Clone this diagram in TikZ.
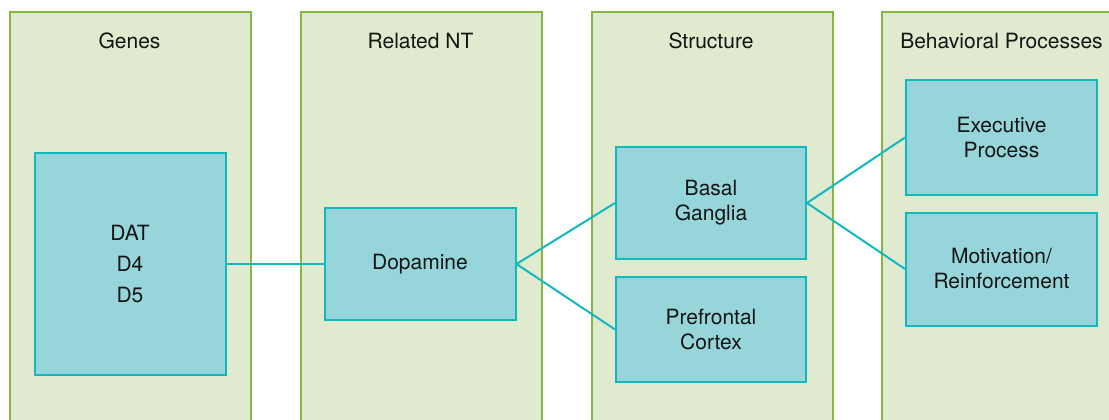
\documentclass[tikz,border=0pt]{standalone}
\usepackage{fontspec}
\setmainfont{TeX Gyre Heros}
\definecolor{panelfill}{RGB}{224,234,207}
\definecolor{panelline}{RGB}{132,184,66}
\definecolor{boxfill}{RGB}{150,214,219}
\definecolor{boxline}{RGB}{18,184,192}
\definecolor{txt}{RGB}{20,20,20}
\begin{document}
\begin{tikzpicture}[x=1pt,y=-1pt,
  panel/.style={draw=panelline, fill=panelfill, line width=2pt, minimum width=241pt, minimum height=440pt, anchor=north west, inner sep=0pt},
  box/.style={draw=boxline, fill=boxfill, line width=2pt, align=center, text=txt, font=\fontsize{21}{25}\selectfont, inner sep=0pt},
  title/.style={text=txt, font=\fontsize{21}{25}\selectfont, inner sep=0pt},
  link/.style={draw=boxline, line width=2pt}]
\useasboundingbox (0,0) rectangle (1109,420);
\clip (0,0) rectangle (1109,420);
\fill[white] (0,0) rectangle (1109,420);
% panels
\node[panel] (p1) at (9,11.5) {};
\node[panel] (p2) at (300,11.5) {};
\node[panel] (p3) at (591,11.5) {};
\node[panel] (p4) at (881,11.5) {};
% titles
\node[title] (t1) at (129.5,41) {Genes};
\node[title] (t2) at (420.5,41) {Related NT};
\node[title] (t3) at (711,41) {Structure};
\node[title] (t4) at (1001.5,41) {Behavioral Processes};
% boxes
\node[box, minimum width=191pt, minimum height=222pt] (dat) at (130,264) {DAT\\[6pt]D4\\[6pt]D5};
\node[box, minimum width=191pt, minimum height=112pt] (dop) at (420,264) {Dopamine};
\node[box, minimum width=190pt, minimum height=112pt] (basal) at (711,203) {Basal\\Ganglia};
\node[box, minimum width=190pt, minimum height=105pt] (pfc) at (711,329.5) {Prefrontal\\Cortex};
\node[box, minimum width=191pt, minimum height=115pt] (exec) at (1001.5,137.5) {Executive\\Process};
\node[box, minimum width=191pt, minimum height=113pt] (motiv) at (1001.5,269) {Motivation/\\Reinforcement};
% connectors
\draw[link] (dat.east) -- (dop.west);
\draw[link] (dop.east) -- (basal.west);
\draw[link] (dop.east) -- (pfc.west);
\draw[link] (basal.east) -- (exec.west);
\draw[link] (basal.east) -- (motiv.west);
\end{tikzpicture}
\end{document}
